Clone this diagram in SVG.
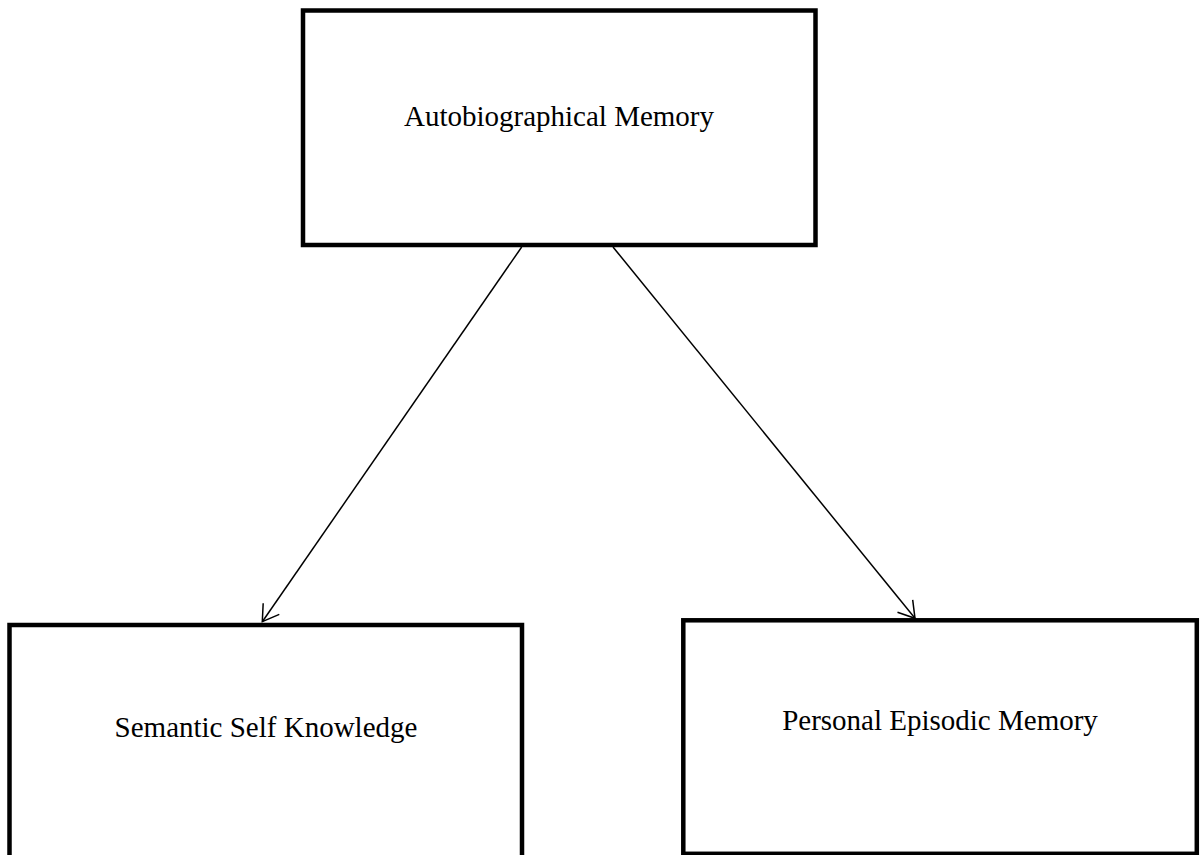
<svg xmlns="http://www.w3.org/2000/svg" width="1203" height="855" viewBox="0 0 1203 855">
<style>
.box{fill:#fff;stroke:#000;stroke-width:4.5}
.lbl{font-family:"Liberation Serif","Times New Roman",serif;font-size:29px;fill:#000;text-anchor:middle}
.conn{stroke:#000;stroke-width:1.5;fill:none}
</style>
<defs>
<marker id="arr" markerUnits="userSpaceOnUse" markerWidth="40" markerHeight="40" viewBox="-20 -20 40 40" refX="0" refY="0" orient="auto" overflow="visible">
<path d="M-15.7,-9.8 L0,0 L-15.7,9.8" fill="none" stroke="#000" stroke-width="1.5"/>
</marker>
</defs>
<rect width="1203" height="855" fill="#fff"/>
<g id="connectors">
<line class="conn" x1="521.7" y1="247" x2="262.3" y2="621.7" marker-end="url(#arr)"/>
<line class="conn" x1="613" y1="247" x2="915" y2="618.3" marker-end="url(#arr)"/>
</g>
<g id="node-autobiographical">
<rect class="box" x="303" y="10.5" width="512.5" height="234.5"/>
<text class="lbl" x="559" y="126">Autobiographical Memory</text>
</g>
<g id="node-semantic">
<rect class="box" x="9.5" y="625" width="512.5" height="250"/>
<text class="lbl" x="266" y="737">Semantic Self Knowledge</text>
</g>
<g id="node-episodic">
<rect class="box" x="683.3" y="620.3" width="513.5" height="233.5"/>
<text class="lbl" x="940" y="730">Personal Episodic Memory</text>
</g>
</svg>
